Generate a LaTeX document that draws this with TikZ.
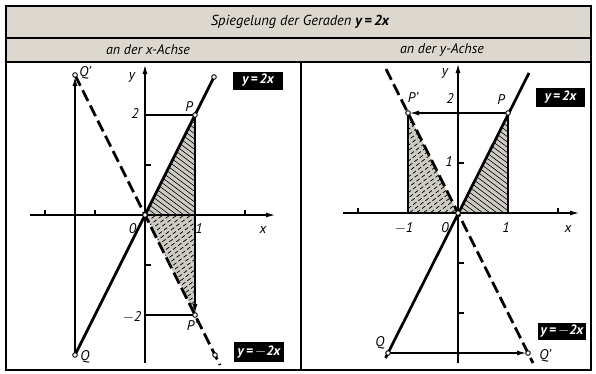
\documentclass[tikz,border=0pt]{standalone}
\usepackage{fontspec}
\setmainfont{PT Sans}
\usetikzlibrary{arrows.meta}
\definecolor{paper}{RGB}{220,216,207}
\definecolor{hatchfill}{RGB}{206,203,196}
\begin{document}
\begin{tikzpicture}[x=1pt,y=1pt,
  thinl/.style={line width=1.1pt},
  thickl/.style={line width=2.7pt},
  dashl/.style={line width=2.7pt, dash pattern=on 12pt off 5pt},
  hatchs/.style={line width=0.6pt},
  hatchd/.style={line width=0.7pt, dash pattern=on 4pt off 2.5pt},
  pt/.style={circle, draw, fill=white, line width=0.9pt, inner sep=0pt, minimum size=4.6pt},
  lbl/.style={font=\itshape\fontsize{14}{14}\selectfont, inner sep=0pt},
  head/.style={font=\itshape\fontsize{14}{14}\selectfont, inner sep=0pt},
  eqbox/.style={fill=black, text=white, font=\itshape\bfseries\fontsize{13.5}{13.5}\selectfont, inner sep=0pt, minimum width=50pt, minimum height=18pt},
  arr/.style={-{Latex[length=9pt,width=5pt]}},
]
\useasboundingbox (0,0) rectangle (596,373);
\fill[white] (0,0) rectangle (596,373);
% frame
\fill[paper] (6,311) rectangle (591,367);
\draw[line width=1.4pt] (6,3) rectangle (591,367);
\coordinate (fl1) at (6,335); \coordinate (fr1) at (591,335);
\coordinate (fl2) at (6,311); \coordinate (fr2) at (591,311);
\coordinate (dt) at (301,311); \coordinate (db) at (301,3);
\draw[line width=1.4pt] (fl1) -- (fr1);
\draw[line width=1.4pt] (fl2) -- (fr2);
\draw[line width=1.4pt] (dt) -- (db);
\node[head, font=\itshape\fontsize{14.5}{14.5}\selectfont] (title) at (300,351) {Spiegelung der Geraden \textbf{y\,=\,2x}};
\node[head] (hl) at (148,323) {an der x-Achse};
\node[head] (hr) at (442,323) {an der y-Achse};

% ---------------- left panel ----------------
\begin{scope}[shift={(145,158)}, x=50pt, y=50pt]
\coordinate (O) at (0,0);
\coordinate (X1) at (1,0);
\coordinate (P) at (1,2);
\coordinate (Pp) at (1,-2);
\coordinate (Q) at (-1.4,-2.8);
\coordinate (Qp) at (-1.4,2.8);
\coordinate (A) at (1.38,2.76);
\coordinate (B) at (1.4,-2.8);
\coordinate (Bend) at (1.5,-3.0);
\coordinate (Y2) at (0,2);
\coordinate (Ym2) at (0,-2);
\coordinate (xs) at (-2.3,0);
\coordinate (xe) at (2.6,0);
\coordinate (ys) at (0,-2.95);
\coordinate (ye) at (0,3.0);
\begin{scope}
\clip (O) -- (X1) -- (P) -- cycle;
\fill[hatchfill] (O) -- (X1) -- (P) -- cycle;
\foreach \s in {-3,-2.86,...,4.2} \draw[hatchs] (\s,0) ++(-3,2.25) -- ++(6,-4.5);
\end{scope}
\begin{scope}
\clip (O) -- (X1) -- (Pp) -- cycle;
\fill[hatchfill] (O) -- (X1) -- (Pp) -- cycle;
\foreach \s in {-3,-2.86,...,4.2} \draw[hatchd] (\s,0) ++(-3,-2.25) -- ++(6,4.5);
\end{scope}
\draw[thinl,arr] (xs) -- (xe);
\draw[thinl,arr] (ys) -- (ye);
\foreach \t in {-2,-1,2} \draw[thinl] (\t,0) -- (\t,0.1);
\foreach \t in {1,-1} \draw[thinl] (0,\t) -- (0.12,\t);
\draw[thinl] (Y2) -- (P);
\draw[thinl] (Ym2) -- (Pp);
\draw[thinl,arr,shorten >=2pt] (P) -- (Pp);
\draw[thinl,arr,shorten >=2pt] (Q) -- (Qp);
\draw[thickl] (Q) -- (A);
\draw[dashl] (Qp) -- (Bend);
\foreach \p in {O,P,Pp,Q,Qp,A,B} \node[pt] (c\p) at (\p) {};
\node[lbl] (lQp) at (-1.2,2.84) {Q'};
\node[lbl] (ly) at (-0.26,2.76) {y};
\node[lbl] (lP) at (0.88,2.17) {P};
\node[lbl] (l2) at (-0.2,2.02) {2};
\node[lbl] (l0) at (-0.25,-0.28) {0};
\node[lbl] (l1) at (1.08,-0.28) {1};
\node[lbl] (lx) at (2.36,-0.3) {x};
\node[lbl] (lm2) at (-0.26,-2.04) {$-$2};
\node[lbl] (lPp) at (0.94,-2.22) {P'};
\node[lbl] (lQ) at (-1.2,-2.84) {Q};
\end{scope}
\node[eqbox] (e1) at (258,292.5) {y\,=\,2x};
\node[eqbox, minimum height=20pt] (e2) at (259,21) {y\,=\,$-$2x};

% ---------------- right panel ----------------
\begin{scope}[shift={(458,160)}, x=50pt, y=50pt]
\coordinate (O) at (0,0);
\coordinate (X1) at (1,0);
\coordinate (Xm1) at (-1,0);
\coordinate (P) at (1,2);
\coordinate (Pp) at (-1,2);
\coordinate (Q) at (-1.4,-2.8);
\coordinate (Qp) at (1.4,-2.8);
\coordinate (As) at (-1.45,-2.9);
\coordinate (A) at (1.42,2.8);
\coordinate (Bs) at (-1.44,2.88);
\coordinate (Bend) at (1.5,-3.0);
\coordinate (xs) at (-2.3,0);
\coordinate (xe) at (2.42,0);
\coordinate (ys) at (0,-3.0);
\coordinate (ye) at (0,2.98);
\begin{scope}
\clip (O) -- (X1) -- (P) -- cycle;
\fill[hatchfill] (O) -- (X1) -- (P) -- cycle;
\foreach \s in {-3,-2.86,...,4.2} \draw[hatchs] (\s,0) ++(-3,2.25) -- ++(6,-4.5);
\end{scope}
\begin{scope}
\clip (O) -- (Xm1) -- (Pp) -- cycle;
\fill[hatchfill] (O) -- (Xm1) -- (Pp) -- cycle;
\foreach \s in {-4.2,-4.06,...,3} \draw[hatchd] (\s,0) ++(-3,-2.25) -- ++(6,4.5);
\end{scope}
\draw[thinl,arr] (xs) -- (xe);
\draw[thinl,arr] (ys) -- (ye);
\foreach \t in {-2,2} \draw[thinl] (\t,0) -- (\t,0.1);
\foreach \t in {1,-1,-2} \draw[thinl] (0,\t) -- (0.12,\t);
\draw[thinl] (X1) -- (P);
\draw[thinl] (Xm1) -- (Pp);
\draw[thinl,arr,shorten >=2pt] (P) -- (Pp);
\draw[thinl,arr,shorten >=2pt] (Q) -- (Qp);
\draw[thickl] (As) -- (A);
\draw[dashl] (Bs) -- (Bend);
\foreach \p in {O,P,Pp,Q,Qp} \node[pt] (d\p) at (\p) {};
\node[lbl] (ry) at (-0.26,2.8) {y};
\node[lbl] (rPp) at (-0.9,2.3) {P'};
\node[lbl] (r2) at (-0.16,2.28) {2};
\node[lbl] (rP) at (0.86,2.26) {P};
\node[lbl] (r1y) at (-0.18,1.02) {1};
\node[lbl] (rm1) at (-1.08,-0.3) {$-$1};
\node[lbl] (r0) at (-0.26,-0.3) {0};
\node[lbl] (r1) at (0.96,-0.3) {1};
\node[lbl] (rx) at (2.2,-0.32) {x};
\node[lbl] (rQ) at (-1.56,-2.6) {Q};
\node[lbl] (rQp) at (1.74,-2.86) {Q'};
\end{scope}
\node[eqbox, minimum width=49pt, minimum height=19pt] (e3) at (560.5,275.5) {y\,=\,2x};
\node[eqbox, minimum width=48pt, minimum height=17pt] (e4) at (562,41.5) {y\,=\,$-$2x};
\end{tikzpicture}
\end{document}
